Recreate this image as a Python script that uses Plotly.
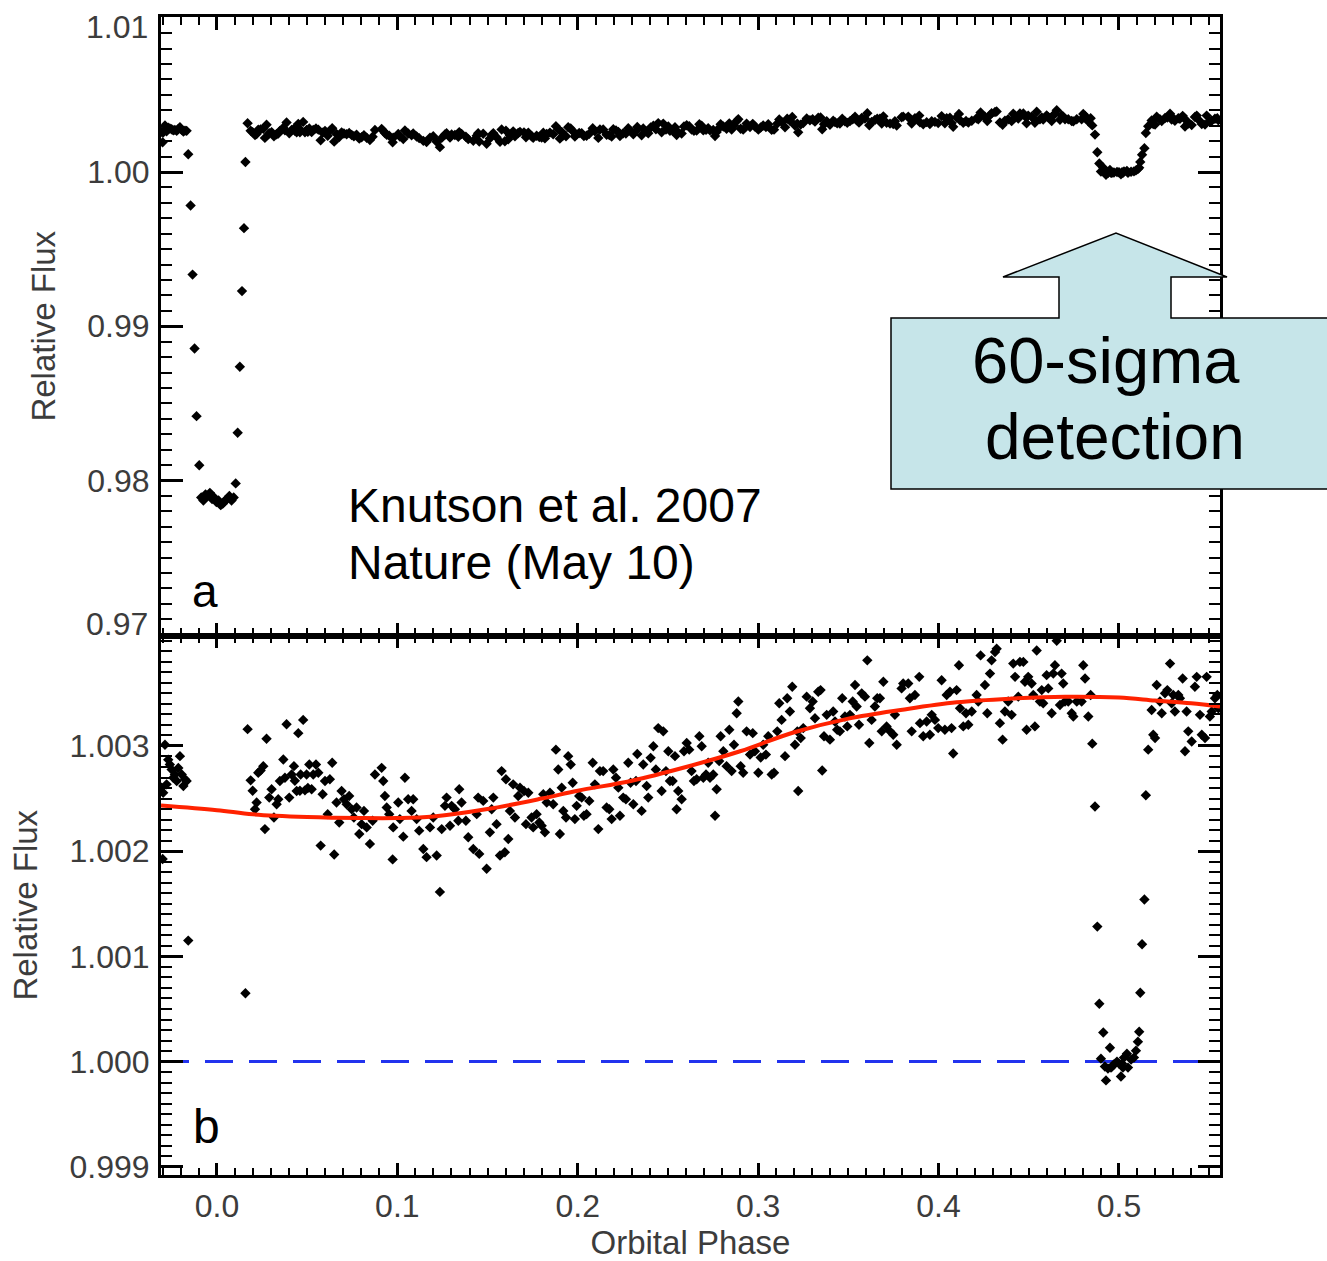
import plotly.graph_objects as go

# ---------------- data ----------------
# Orbital phase of each binned measurement and its relative flux,
# stored as parts-per-million above unity (flux = 1 + ppm * 1e-6).
phase = [
    -0.0307, -0.0301, -0.0298, -0.0288, -0.0279, -0.0270, -0.0261, -0.0251, -0.0242, -0.0233,
    -0.0223, -0.0214, -0.0205, -0.0195, -0.0186, -0.0177, -0.0168,
    # primary transit
    -0.0159, -0.0146, -0.0135, -0.0124, -0.0113, -0.0098, -0.0087, -0.0075, -0.0063, -0.0051,
    -0.0039, -0.0027, -0.0015, -0.0003, 0.0009, 0.0021, 0.0033, 0.0045, 0.0057, 0.0069,
    0.0081, 0.0093, 0.0104, 0.0115, 0.0127, 0.0139, 0.0150, 0.0158,
    # out of transit
    0.0170, 0.0187, 0.0198, 0.0211, 0.0220, 0.0229, 0.0242, 0.0257, 0.0266, 0.0275,
    0.0290, 0.0303, 0.0316, 0.0331, 0.0340, 0.0349, 0.0368, 0.0377, 0.0386, 0.0401,
    0.0414, 0.0427, 0.0432, 0.0442, 0.0451, 0.0460, 0.0464, 0.0478, 0.0488, 0.0497,
    0.0504, 0.0512, 0.0525, 0.0534, 0.0549, 0.0562, 0.0575, 0.0586, 0.0599, 0.0614,
    0.0626, 0.0639, 0.0650, 0.0663, 0.0678, 0.0691, 0.0704, 0.0719, 0.0733, 0.0747,
    0.0759, 0.0774, 0.0789, 0.0802, 0.0815, 0.0830, 0.0848, 0.0863, 0.0876,
    0.0913, 0.0922, 0.0931, 0.0941, 0.0955, 0.0974, 0.0977, 0.1005, 0.1014, 0.1033,
    0.1042, 0.1060, 0.1079, 0.1088, 0.1107, 0.1121, 0.1144, 0.1162, 0.1181, 0.1199,
    0.1218, 0.1236, 0.1246, 0.1264, 0.1273, 0.1292, 0.1301, 0.1319, 0.1338, 0.1343,
    0.1356, 0.1380, 0.1393, 0.1421, 0.1440, 0.1448, 0.1454, 0.1476, 0.1495, 0.1513,
    0.1523, 0.1532, 0.1550, 0.1569, 0.1578, 0.1596, 0.1602, 0.1615, 0.1624, 0.1642,
    0.1652, 0.1670, 0.1680, 0.1702, 0.1713, 0.1726, 0.1744, 0.1753, 0.1772, 0.1787,
    0.1800, 0.1809, 0.1818, 0.1828, 0.1846, 0.1864, 0.1879, 0.1892, 0.1901, 0.1911,
    0.1920, 0.1935, 0.1947, 0.1961, 0.1972, 0.1984, 0.1994, 0.2008, 0.2022, 0.2034,
    0.2049, 0.2064, 0.2083, 0.2095, 0.2114, 0.2123, 0.2141, 0.2160, 0.2175, 0.2188,
    0.2197, 0.2212, 0.2225, 0.2234, 0.2252, 0.2267, 0.2280, 0.2293, 0.2308, 0.2323,
    0.2330, 0.2354, 0.2363, 0.2382, 0.2391, 0.2404, 0.2419, 0.2433, 0.2446, 0.2465,
    0.2474, 0.2489, 0.2502, 0.2511, 0.2526, 0.2539, 0.2548, 0.2557, 0.2576, 0.2589,
    0.2604, 0.2618, 0.2631, 0.2644, 0.2659, 0.2674, 0.2687, 0.2696, 0.2711, 0.2723,
    0.2733, 0.2751, 0.2761, 0.2770, 0.2784, 0.2792, 0.2807, 0.2825, 0.2840, 0.2853,
    0.2866, 0.2881, 0.2890, 0.2903, 0.2917, 0.2936, 0.2955, 0.2970, 0.2982, 0.3001,
    0.3014, 0.3028, 0.3043, 0.3056, 0.3075, 0.3088, 0.3106, 0.3117, 0.3130, 0.3149,
    0.3161, 0.3176, 0.3189, 0.3204, 0.3217, 0.3222, 0.3236, 0.3250, 0.3269, 0.3287,
    0.3302, 0.3315, 0.3333, 0.3346, 0.3355, 0.3365, 0.3380, 0.3398, 0.3416, 0.3426,
    0.3438, 0.3453, 0.3466, 0.3481, 0.3494, 0.3509, 0.3524, 0.3537, 0.3546, 0.3559,
    0.3574, 0.3592, 0.3605, 0.3616, 0.3629, 0.3647, 0.3660,
    0.3675, 0.3685, 0.3694, 0.3712, 0.3731, 0.3749, 0.3758, 0.3768, 0.3795, 0.3804,
    0.3832, 0.3841, 0.3851, 0.3869, 0.3893, 0.3897, 0.3915, 0.3934, 0.3952, 0.3962,
    0.3980, 0.3998, 0.4017, 0.4035, 0.4045, 0.4063, 0.4072, 0.4081, 0.4100, 0.4113,
    0.4119, 0.4137, 0.4152, 0.4165, 0.4184, 0.4211, 0.4220, 0.4233, 0.4257, 0.4270,
    0.4285, 0.4294, 0.4313, 0.4322, 0.4340, 0.4355, 0.4368, 0.4386, 0.4405, 0.4414,
    0.4424, 0.4442, 0.4451, 0.4470, 0.4479, 0.4488, 0.4497, 0.4516, 0.4525, 0.4534,
    0.4544, 0.4562, 0.4572, 0.4580, 0.4599, 0.4608, 0.4627, 0.4636, 0.4645, 0.4655,
    0.4673, 0.4682, 0.4691, 0.4701, 0.4719, 0.4738, 0.4747, 0.4766, 0.4793, 0.4802,
    0.4812, 0.4830, 0.4843, 0.4852,
    # secondary eclipse
    0.4867, 0.4880, 0.4891, 0.4900, 0.4913, 0.4922, 0.4928, 0.4939, 0.4950, 0.4956,
    0.4961, 0.4972, 0.4989, 0.5000, 0.5011, 0.5017, 0.5022, 0.5028, 0.5044, 0.5050,
    0.5067, 0.5083, 0.5094, 0.5105, 0.5112, 0.5118, 0.5128, 0.5141, 0.5149,
    # after eclipse
    0.5162, 0.5181, 0.5190, 0.5200, 0.5209, 0.5227, 0.5237, 0.5255, 0.5268, 0.5283,
    0.5292, 0.5301, 0.5310, 0.5329, 0.5338, 0.5353, 0.5366, 0.5375, 0.5384, 0.5403,
    0.5421, 0.5431, 0.5449, 0.5459, 0.5477, 0.5486, 0.5504, 0.5514, 0.5532, 0.5545,
    0.5551,
]

flux_ppm = [
    2604, 1925, 2556, 3012, 2635, 2870, 2824, 2777, 2698, 2729,
    2667, 2790, 2903, 2729, 2619, 2683, 2667,
    1150, -2170, -6650, -11440, -15830, -19010, -21100, -21300, -20900, -21000,
    -20800, -21200, -21100, -21400, -21300, -21600, -21500, -21300, -21200, -21000,
    -21300, -21100, -20190, -16900, -12630, -7720, -3640, 650,
    3160, 2673, 2575, 2399, 2462, 2745, 2767, 2808, 2210, 3068,
    2509, 2588, 2320, 2446, 2493, 2667, 2871, 2698, 3207, 2509,
    2729, 2808, 2670, 2572, 3122, 2575, 2729, 3248, 2578, 2729,
    2600, 2824, 2588, 2729, 2824, 2745, 2053, 2541, 2667, 2352,
    2683, 2840, 1969, 2462, 2273, 2572, 2493, 2446, 2525, 2399,
    2320, 2415, 2163, 2257, 2383, 2226, 2069, 2289, 2729,
    2792, 2667, 2525, 2415, 2352, 1922, 2226, 2462, 2305, 2138,
    2698, 2493, 2383, 2493, 2305, 2195, 2021, 1943, 2226, 2320,
    1959, 1613, 2210, 2431, 2509, 2242, 2431, 2399, 2289, 2588,
    2462, 2289, 2132, 2021, 2352, 2509, 1974, 2478, 1833, 2179,
    2399, 2509, 2257, 1959, 2761, 1990, 2683, 2116, 2383, 2635,
    2320, 2525, 2604, 2572, 2257, 2556, 2320, 2226, 2352, 2273,
    2242, 2541, 2179, 2462, 2556, 2446, 2965, 2777, 2163, 2604,
    2383, 2320, 2903, 2824, 2651, 2305, 2431, 2525, 2509, 2336,
    2352, 2478, 2840, 2635, 2210, 2761, 2761, 2415, 2399, 2305,
    2777, 2698, 2604, 2336, 2509, 2493, 2840, 2651, 2446, 2667,
    2924, 2383, 2824, 2619, 2509, 2887, 2997, 2777, 3170, 2572,
    3139, 2761, 2950, 2667, 2667, 2903, 2399, 2572, 2493, 2950,
    3028, 2965, 2761, 2667, 2683, 3092, 2997, 2698, 2729, 2840,
    2698, 2729, 2336, 2588, 2856, 3092, 2950, 2808, 3154, 2761,
    3012, 3311, 3422, 2808, 2745, 3139, 2918, 3122, 2950, 2745,
    2890, 3012, 2918, 3092, 2729, 2745, 3139, 3406, 3248, 2903,
    3453, 3328, 3563, 3012, 3139, 2572, 3075, 3170, 3469, 3358,
    3422, 3264, 3516, 3531, 2767, 3092, 3296, 3060, 3328, 3233,
    3154, 3139, 3453, 3280, 3186, 3296, 3422, 3579, 3375, 3201,
    3500, 3469, 3814, 3028, 3248, 3375, 3453,
    3453, 3139, 3610, 3186, 3139, 3107, 3296, 3012, 3547, 3594,
    3594, 3453, 3139, 3484, 3657, 3217, 3092, 3233, 3107, 3296,
    3248, 3170, 3625, 3154, 3484, 3516, 3170, 2928, 3531, 3767,
    3358, 3186, 3311, 3201, 3328, 3484, 3422, 3861, 3579, 3311,
    3688, 3814, 3893, 3924, 3217, 3060, 3328, 3422, 3296, 3783,
    3657, 3469, 3799, 3799, 3610, 3154, 3657, 3594, 3484, 3186,
    3908, 3422, 3531, 3406, 3673, 3547, 3311, 3688, 3767, 4000,
    3390, 3688, 3594, 3422, 3422, 3311, 3280, 3422, 3422, 3767,
    3641, 3280, 3484, 3022,
    2424, 1283, 550, 28, 277, -47, -179, -66, 132, -57,
    -47, -28, 0, -19, -142, -19, -57, 38, 75, -57,
    19, 38, 104, 189, 283, 654, 1116, 1541, 2531,
    2965, 3342, 3107, 3075, 3579, 3422, 3311, 3500, 3531, 3783,
    3406, 3484, 3328, 3484, 3453, 3641, 2950, 3328, 3139, 3043,
    3563, 3657, 3296, 3107, 3075, 3657, 3280, 3328, 3453, 3484,
    3358,
]

# Red model curve (read at several phases), ppm above unity
model_phase = [-0.031, 0.00, 0.02, 0.05, 0.08, 0.10, 0.12, 0.15, 0.18, 0.20, 0.23,
               0.26, 0.29, 0.32, 0.35, 0.38, 0.41, 0.44, 0.47, 0.50, 0.52, 0.54, 0.556]
model_ppm = [2435, 2390, 2350, 2325, 2315, 2315, 2330, 2400, 2500, 2575, 2670,
             2800, 2950, 3130, 3260, 3345, 3415, 3450, 3468, 3460, 3432, 3405, 3375]

x_tickvals = [0.0, 0.1, 0.2, 0.3, 0.4, 0.5]
x_ticktext = ["0.0", "0.1", "0.2", "0.3", "0.4", "0.5"]
top_tickvals = [0.97, 0.98, 0.99, 1.00, 1.01]
top_ticktext = ["0.97", "0.98", "0.99", "1.00", "1.01"]
bot_tickvals = [0.999, 1.000, 1.001, 1.002, 1.003]
bot_ticktext = ["0.999", "1.000", "1.001", "1.002", "1.003"]

flux = [1.0 + v * 1e-6 for v in flux_ppm]
model_flux = [1.0 + v * 1e-6 for v in model_ppm]

# ---------------- layout geometry ----------------
W, H = 1327, 1261
L, R, T, B = 161, 107, 17, 86
PW = W - L - R
PH = H - T - B


def px(x):
    return (x - L) / PW


def py(y):
    return (H - B - y) / PH


split = py(635.5)
FONT = "Liberation Sans, Arial, Helvetica, sans-serif"
GREY = "#3c3c3c"
TICKSIZE = 32

fig = go.Figure()

marker = dict(symbol="diamond", size=8, color="black", line=dict(width=0))

fig.add_trace(go.Scatter(x=phase, y=flux, mode="markers", marker=marker,
                         xaxis="x2", yaxis="y2", showlegend=False, hoverinfo="x+y"))
fig.add_trace(go.Scatter(x=phase, y=flux, mode="markers", marker=marker,
                         xaxis="x", yaxis="y", showlegend=False, hoverinfo="x+y"))
fig.add_trace(go.Scatter(x=model_phase, y=model_flux, mode="lines",
                         line=dict(color="#ff2200", width=4, shape="spline"),
                         xaxis="x", yaxis="y", showlegend=False))


def ax(**kw):
    d = dict(showline=True, linecolor="black", linewidth=3, mirror="ticks",
             ticks="inside", tickcolor="black", tickwidth=2.5,
             showgrid=False, zeroline=False, automargin=False,
             tickfont=dict(family=FONT, size=TICKSIZE, color=GREY))
    d.update(kw)
    return d


# the two end labels of panel a sit just inside the frame (placed as text below)
top_inner_text = ["" if i in (0, len(top_ticktext) - 1) else t for i, t in enumerate(top_ticktext)]

fig.update_layout(
    width=W, height=H,
    margin=dict(l=L, r=R, t=T, b=B, pad=0),
    paper_bgcolor="white", plot_bgcolor="white",
    font=dict(family=FONT, color="black"),
    xaxis=ax(domain=[0, 1], anchor="y", range=[-0.031, 0.556],
             tickmode="array", tickvals=x_tickvals, ticktext=x_ticktext,
             ticklen=12, ticklabelstandoff=1,
             minor=dict(ticks="inside", ticklen=7, tickwidth=2, tickcolor="black",
                        dtick=0.01, showgrid=False),
             title=dict(text="Orbital Phase", font=dict(family=FONT, size=33, color=GREY),
                        standoff=8)),
    xaxis2=ax(domain=[0, 1], anchor="y2", matches="x", range=[-0.031, 0.556],
              tickmode="array", tickvals=x_tickvals, ticktext=x_ticktext,
              showticklabels=False, ticklen=13,
              minor=dict(ticks="inside", ticklen=8, tickwidth=2, tickcolor="black",
                         dtick=0.01, showgrid=False)),
    yaxis=ax(domain=[0, split], anchor="x", range=[0.998922, 1.004050],
             tickmode="array", tickvals=bot_tickvals, ticktext=bot_ticktext,
             ticklen=22, ticklabelstandoff=2,
             minor=dict(ticks="inside", ticklen=11, tickwidth=2, tickcolor="black",
                        dtick=0.0001, showgrid=False),
             title=dict(text="Relative Flux", font=dict(family=FONT, size=33, color=GREY),
                        standoff=22)),
    yaxis2=ax(domain=[split, 1], anchor="x2", range=[0.96995, 1.01005],
              tickmode="array", tickvals=top_tickvals, ticktext=top_inner_text,
              ticklen=22, ticklabelstandoff=2,
              minor=dict(ticks="inside", ticklen=11, tickwidth=2, tickcolor="black",
                         dtick=0.001, showgrid=False),
              title=dict(text="Relative Flux", font=dict(family=FONT, size=33, color=GREY),
                         standoff=22)),
)

# end tick labels of panel a, nudged inside the frame as in the original
for label, ypix in ((top_ticktext[-1], 27), (top_ticktext[0], 624)):
    fig.add_annotation(text=label, xref="paper", yref="paper", x=px(150), y=py(ypix),
                       xanchor="right", yanchor="middle", showarrow=False,
                       font=dict(family=FONT, size=TICKSIZE, color=GREY))

# dashed reference level at 1.000 in panel b
fig.add_shape(type="line", xref="x domain", x0=0, x1=1, yref="y", y0=1.0, y1=1.0,
              line=dict(color="#2233ee", width=3, dash="28px,16px"), layer="below")

# callout arrow box (pixel outline -> paper coordinates)
outline = [(891, 318), (1059, 318), (1059, 277), (1003, 277), (1116, 233), (1227, 277),
           (1171, 277), (1171, 318), (1340, 318), (1340, 489), (891, 489)]
path = "M " + " L ".join(f"{px(a):.5f},{py(b):.5f}" for a, b in outline) + " Z"
fig.add_shape(type="path", path=path, xref="paper", yref="paper",
              fillcolor="#c6e5e9", line=dict(color="black", width=1.5), layer="above")

notes = [
    ("Knutson et al. 2007", 346, 506, 48, "left"),
    ("Nature (May 10)", 346, 562.5, 48, "left"),
    ("a", 205, 591, 46, "center"),
    ("b", 206, 1126, 48, "center"),
    ("60-sigma", 1106, 360.5, 65, "center"),
    ("detection", 1115, 437, 64, "center"),
]
for text, x, y, size, anchor in notes:
    fig.add_annotation(text=text, xref="paper", yref="paper", x=px(x), y=py(y),
                       xanchor=anchor, yanchor="middle", showarrow=False,
                       font=dict(family=FONT, size=size, color="black"))

fig.write_html("out.html")
